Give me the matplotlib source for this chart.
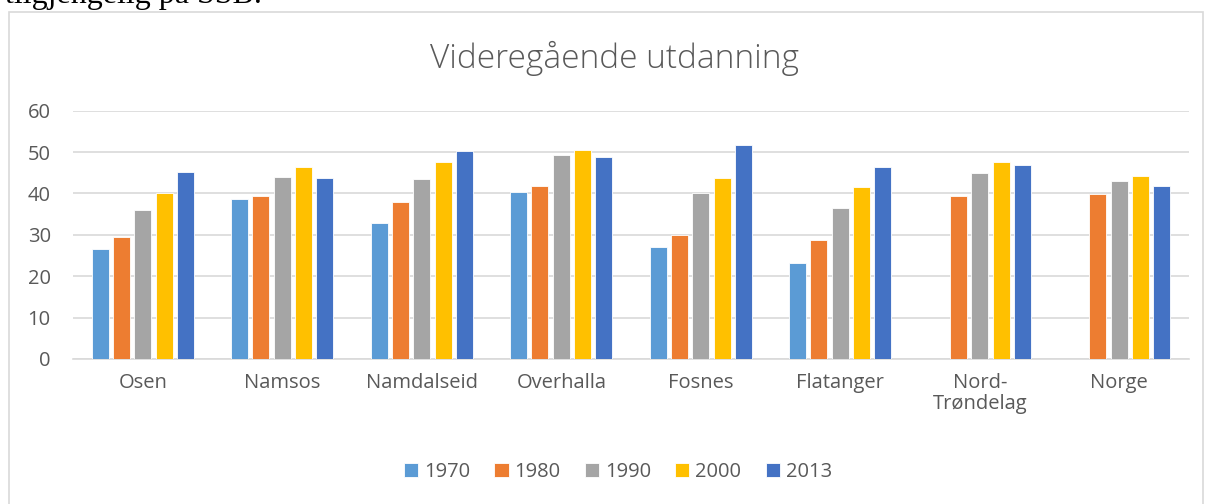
import matplotlib.pyplot as plt
import numpy as np
from matplotlib.patches import Rectangle

kommuner = ["Osen", "Namsos", "Namdalseid", "Overhalla", "Fosnes", "Flatanger",
            "Nord-\nTrøndelag", "Norge"]
aar = ["1970", "1980", "1990", "2000", "2013"]

v1970 = [26.6, 38.7, 32.9, 40.4, 27.1, 23.3, np.nan, np.nan]
v1980 = [29.5, 39.4, 37.9, 41.9, 29.9, 28.7, 39.3, 39.9]
v1990 = [35.9, 43.9, 43.5, 49.3, 40.0, 36.5, 44.9, 43.0]
v2000 = [40.1, 46.4, 47.7, 50.5, 43.7, 41.6, 47.7, 44.3]
v2013 = [45.2, 43.7, 50.2, 48.8, 51.8, 46.3, 46.8, 41.7]

farger = ["#5B9BD5", "#ED7D31", "#A5A5A5", "#FFC000", "#4472C4"]
tekstfarge = "#595959"
str_tekst = 14.5

plt.rcParams["font.family"] = ["Open Sans", "DejaVu Sans"]

fig = plt.figure(figsize=(12.05, 5.04), dpi=100)
ax = fig.add_axes([73 / 1205, 1 - 359 / 504, (1189 - 73) / 1205, (359 - 110.7) / 504])

# ramme rundt diagrammet
fig.patches.append(Rectangle((9 / 1205, -0.1), (1203 - 9) / 1205, 1 - 12 / 504 + 0.1,
                             transform=fig.transFigure, fill=False,
                             edgecolor="#D9D9D9", linewidth=1.2))
# rest av teksten over diagrammet
fig.text(262 / 1205, 1 - 3 / 504, "tilgjengelig på SSB.", family="Liberation Serif",
         fontsize=23, va="baseline", ha="right", color="black")

x = np.arange(len(kommuner))
bredde = 0.122
steg = 0.153
serier = [v1970, v1980, v1990, v2000, v2013]
for i, (verdier, navn, farge) in enumerate(zip(serier, aar, farger)):
    ax.bar(x + (i - 2) * steg, verdier, bredde, color=farge, label=navn,
           edgecolor="white", linewidth=0.6, zorder=3)

ax.set_xlim(-0.5, len(kommuner) - 0.5)
ax.set_ylim(0, 60)
ax.set_yticks(range(0, 61, 10))
ax.grid(axis="y", color="#D9D9D9", linewidth=1.2, zorder=0)
for s in ["top", "right", "left"]:
    ax.spines[s].set_visible(False)
ax.spines["bottom"].set_color("#D9D9D9")
ax.spines["bottom"].set_linewidth(1.2)
ax.tick_params(axis="both", length=0, colors=tekstfarge, labelsize=str_tekst)
ax.tick_params(axis="y", pad=16)
ax.tick_params(axis="x", pad=10)
ax.set_xticks(x)
ax.set_xticklabels(kommuner, linespacing=1.05)

fig.text(614 / 1205, 1 - 58 / 504, "Videregående utdanning", ha="center", va="center",
         fontsize=24, fontweight="light", color=tekstfarge)

fig.legend(loc="center", bbox_to_anchor=(618 / 1205, 1 - 472 / 504), ncol=5,
           frameon=False, fontsize=str_tekst, labelcolor=tekstfarge, handlelength=0.7,
           handleheight=0.7, handletextpad=0.3, columnspacing=1.2)

fig.savefig("out.png", dpi=100)
